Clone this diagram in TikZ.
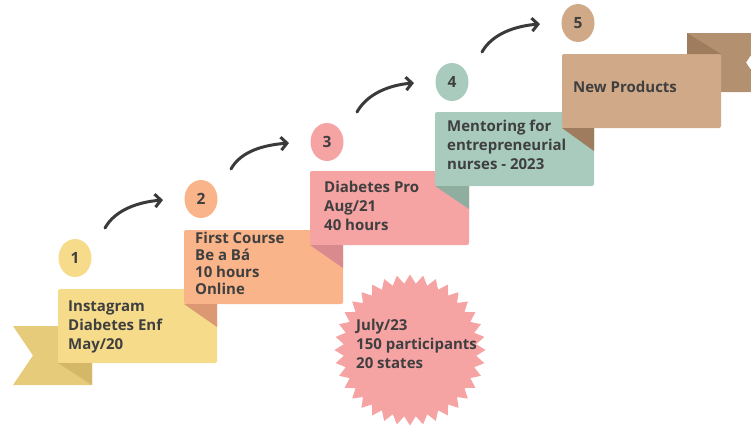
\documentclass[tikz,border=0pt]{standalone}
\usepackage{fontspec}
\setmainfont{Open Sans}
\usetikzlibrary{arrows.meta,shapes.geometric}
\definecolor{txt}{HTML}{3F3F3F}
\definecolor{arrc}{HTML}{3A3A3A}
\definecolor{cA}{HTML}{F6DC8A}
\definecolor{cAtail}{HTML}{E6CB7A}
\definecolor{cAfold}{HTML}{D4B868}
\definecolor{cB}{HTML}{F9B489}
\definecolor{cBfold}{HTML}{DC9872}
\definecolor{cC}{HTML}{F6A3A4}
\definecolor{cCfold}{HTML}{D98A8E}
\definecolor{cD}{HTML}{A8CBBE}
\definecolor{cDfold}{HTML}{8FAE9F}
\definecolor{cE}{HTML}{D0AA88}
\definecolor{cEtail}{HTML}{B39070}
\definecolor{cEfold}{HTML}{9F7C5D}
\begin{document}
\begin{tikzpicture}[x=1pt,y=-1pt,
  box/.style={rounded corners=2pt, minimum width=159pt, minimum height=74pt, anchor=north west, inner sep=0pt, outer sep=0pt},
  num/.style={ellipse, minimum width=33pt, minimum height=38pt, inner sep=0pt, font=\bfseries\fontsize{15.5}{18}\selectfont, text=txt},
  lbl/.style={anchor=base west, align=left, inner sep=0pt, font=\bfseries\fontsize{15}{18.7}\selectfont, text=txt},
  arr/.style={draw=arrc, line width=3pt, line cap=round, -{Straight Barb[length=6pt,width=13pt]}}
]
\useasboundingbox (0,0) rectangle (751,426);
\begin{scope}
\clip (0,0) rectangle (751,426);
% ribbon tail of step 1
\fill[cAtail] (13,326) -- (92,326) -- (92,385) -- (13,385) -- (33,355.5) -- cycle;
\node[box, fill=cA] (b1) at (58,289) {};
\fill[cAfold] (b1.south west) -- ++(34,0) -- ++(0,22) -- cycle;
% step 2
\node[box, fill=cB] (b2) at (184,230) {};
\fill[cBfold] (b2.south west) -- (b2.south west -| b1.east) -- ++(0,23) -- cycle;
% step 3
\node[box, fill=cC] (b3) at (310,171) {};
\fill[cCfold] (b3.south west) -- (b3.south west -| b2.east) -- ++(0,23) -- cycle;
% step 4
\node[box, fill=cD] (b4) at (435,112) {};
\fill[cDfold] (b4.south west) -- (b4.south west -| b3.east) -- ++(0,23) -- cycle;
% ribbon tail of step 5
\fill[cEtail] (687,33) -- (766,33) -- (746,62.5) -- (766,92) -- (687,92) -- cycle;
\node[box, fill=cE] (b5) at (562,54) {};
\fill[cEfold] (b5.north east -| 687,0) ++(0,-21) -- (b5.north east) -- (b5.north east -| 687,0) -- cycle;
\fill[cEfold] (b5.south west) -- (b5.south west -| b4.east) -- ++(0,23) -- cycle;
\end{scope}
% starburst
\fill[cC] plot[samples=73, domain=0:72, variable=\t] ({410+(71+4.5*cos(\t*180))*cos(\t*5)}, {350+(71+4.5*cos(\t*180))*sin(\t*5)}) -- cycle;
% numbers
\node[num, fill=cA] (n1) at (75,258) {1};
\node[num, fill=cB] (n2) at (201,199) {2};
\node[num, fill=cC] (n3) at (327,142) {3};
\node[num, fill=cD] (n4) at (452,82) {4};
\node[num, fill=cE] (n5) at (578,23) {5};
% arrows
\draw[arr] ([shift={(30,-30)}]n1.center) .. controls +(10,-18) and +(-25,2) .. ([shift={(-38,1)}]n2.center);
\draw[arr] ([shift={(30,-30)}]n2.center) .. controls +(10,-18) and +(-25,2) .. ([shift={(-38,1)}]n3.center);
\draw[arr] ([shift={(30,-30)}]n3.center) .. controls +(10,-18) and +(-25,2) .. ([shift={(-38,1)}]n4.center);
\draw[arr] ([shift={(30,-30)}]n4.center) .. controls +(10,-18) and +(-25,2) .. ([shift={(-38,1)}]n5.center);
% labels
\node[lbl] (t1) at (68,349) {Instagram\\Diabetes Enf\\May/20};
\node[lbl, font=\bfseries\fontsize{15}{17}\selectfont] (t2) at (195,294) {First Course\\Be a Bá\\10 hours\\Online};
\node[lbl] (t3) at (324,230) {Diabetes Pro\\Aug/21\\40 hours};
\node[lbl] (t4) at (447,169) {Mentoring for\\entrepreneurial\\nurses - 2023};
\node[lbl] (t5) at (573,92) {New Products};
\node[lbl] (t6) at (356,368) {July/23\\150 participants\\20 states};
\end{tikzpicture}
\end{document}
